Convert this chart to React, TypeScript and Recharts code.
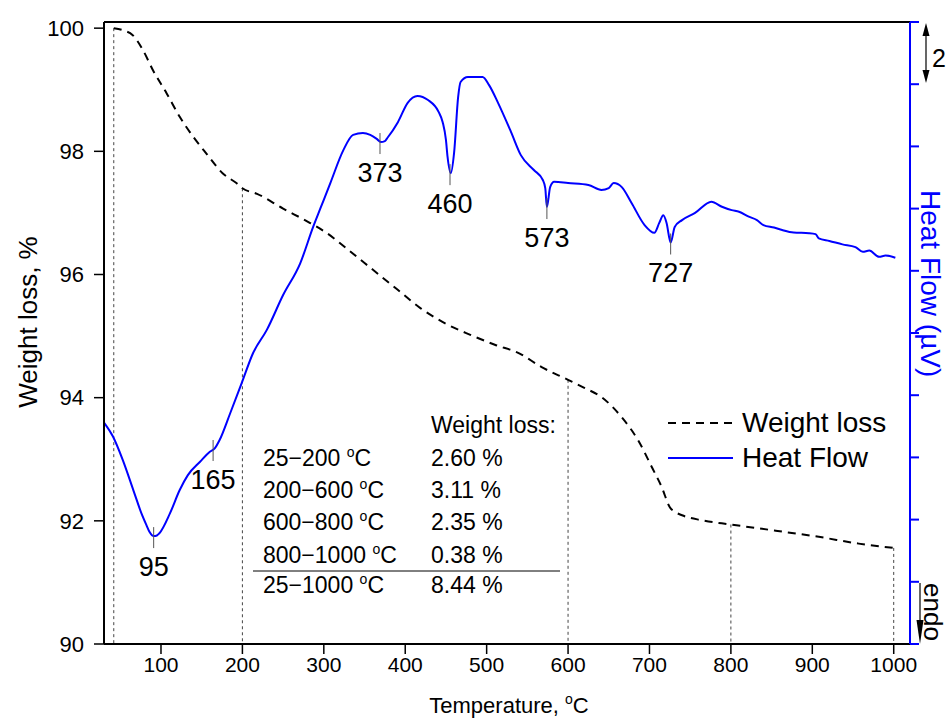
import React from "react";
import { LineChart, Line, XAxis, YAxis, ReferenceLine, ReferenceDot, Legend } from "recharts";

const FONT = "'Liberation Sans', Arial, sans-serif";

// TG curve (weight, %) vs temperature (°C)
const weightTemp = [42, 55, 65, 78, 90, 107, 123, 140, 156, 176, 193, 200, 218, 250, 280, 304, 330, 360, 390, 419, 450, 480, 510, 540, 567, 600, 620, 641, 666, 686, 703, 715, 725, 732, 740, 764, 800, 855, 908, 957, 1000];
const weightValue = [100.0, 99.96, 99.89, 99.64, 99.32, 98.94, 98.56, 98.23, 97.96, 97.64, 97.48, 97.4, 97.31, 97.07, 96.86, 96.67, 96.4, 96.08, 95.76, 95.45, 95.2, 95.02, 94.86, 94.72, 94.5, 94.29, 94.16, 94.01, 93.68, 93.31, 92.87, 92.55, 92.22, 92.14, 92.09, 92.01, 91.94, 91.84, 91.74, 91.63, 91.56];

// DTA curve (heat flow, µV) vs temperature (°C)
const heatTemp = [30, 41, 53, 66, 76, 82, 86, 91, 95, 98, 111, 123, 133, 148, 160, 166, 172, 185, 199, 213, 230, 250, 271, 287, 296, 308, 324, 336, 348, 357, 365, 370, 375, 378, 391, 403, 415, 428, 441, 446, 450, 452, 456, 460, 465, 468, 477, 495, 503, 514, 530, 542, 558, 569, 572, 574, 578, 583, 600, 625, 641, 650, 656, 666, 678, 694, 706, 712, 717, 721, 726, 731, 740, 756, 776, 789, 801, 810, 822, 832, 840, 853, 863, 877, 896, 904, 908, 921, 937, 953, 962, 970, 982, 990, 1002];
const heatValue = [7.12, 6.67, 5.92, 4.95, 4.2, 3.83, 3.6, 3.47, 3.49, 3.56, 4.2, 4.95, 5.43, 5.86, 6.18, 6.29, 6.56, 7.42, 8.38, 9.35, 10.1, 11.22, 12.24, 13.42, 14.02, 14.82, 15.88, 16.37, 16.43, 16.37, 16.24, 16.14, 16.17, 16.27, 16.78, 17.4, 17.62, 17.49, 17.11, 16.78, 16.21, 15.66, 15.14, 15.79, 17.59, 18.07, 18.23, 18.23, 17.97, 17.4, 16.46, 15.72, 15.24, 14.92, 14.66, 14.05, 14.69, 14.86, 14.82, 14.76, 14.6, 14.66, 14.82, 14.69, 14.18, 13.47, 13.22, 13.54, 13.79, 13.54, 12.91, 13.41, 13.63, 13.86, 14.22, 14.06, 13.95, 13.9, 13.74, 13.63, 13.47, 13.39, 13.31, 13.23, 13.21, 13.18, 13.04, 12.96, 12.85, 12.76, 12.61, 12.65, 12.45, 12.49, 12.42];

// peak annotations on heat flow
const peakTemp = [91, 164, 369, 455, 574, 726];
const peakHeat = [3.47, 6.27, 16.14, 15.14, 14.05, 12.91];
const peakLabel = ["95", "165", "373", "460", "573", "727"];

// dotted drop lines from weight curve
const stepTemp = [42, 200, 600, 800, 1000];
const stepWeight = [100.0, 97.4, 94.29, 91.94, 91.56];

// weight loss table
const rangeLabels = ["25\u2212200", "200\u2212600", "600\u2212800", "800\u22121000"];
const rangeLoss = ["2.60", "3.11", "2.35", "0.38"];
const totalRange = "25\u22121000";
const totalLoss = "8.44";

const xTicks = [100, 200, 300, 400, 500, 600, 700, 800, 900, 1000];
const leftTicks = [90, 92, 94, 96, 98, 100];
const rightTicks = [0, 2, 4, 6, 8, 10, 12, 14, 16, 18, 20];

const weightData = weightTemp.map((t, i) => ({ t, w: weightValue[i] }));
const heatData = heatTemp.map((t, i) => ({ t, h: heatValue[i] }));

const legendOrder = ["Weight loss", "Heat Flow"];
const dashOf: Record<string, string | undefined> = { "Weight loss": "8 6", "Heat Flow": undefined };

const LegendBox = ({ payload }: any) => {
  const items = [...(payload || [])].sort(
    (a: any, b: any) => legendOrder.indexOf(a.value) - legendOrder.indexOf(b.value)
  );
  return (
    <div style={{ fontFamily: FONT, fontSize: 28, color: "#000" }}>
      {items.map((e: any) => (
        <div key={e.value} style={{ display: "flex", alignItems: "center", height: 35 }}>
          <svg width={74} height={10}>
            <line x1={0} x2={65} y1={5} y2={5} stroke={e.color} strokeWidth={2} strokeDasharray={dashOf[e.value]} />
          </svg>
          <span>{e.value}</span>
        </div>
      ))}
    </div>
  );
};

const peakShape = (label: string) => (p: any) => (
  <g>
    <line x1={p.cx} x2={p.cx} y1={p.cy - 9} y2={p.cy + 12} stroke="#555" strokeWidth={1} />
    <text x={p.cx} y={p.cy + 40} textAnchor="middle" fontFamily={FONT} fontSize={27} fill="#000">
      {label}
    </text>
  </g>
);

const Deg = () => (
  <>
    <tspan dy={-9} fontSize={14}>o</tspan>
    <tspan dy={9}>C</tspan>
  </>
);

const NoLabel = () => <g />;

export default function App() {
  const rowY = [466, 498, 530, 563];
  return (
    <div style={{ position: "absolute", left: 0, top: 0, width: 947, height: 720, background: "#fff" }}>
      <LineChart width={947} height={720} margin={{ top: 22, right: 0, left: 44, bottom: 0 }}>
        <XAxis
          type="number"
          dataKey="t"
          domain={[30, 1020]}
          allowDataOverflow
          ticks={xTicks}
          tickSize={10}
          tickMargin={3}
          height={76}
          axisLine={{ stroke: "#000", strokeWidth: 2 }}
          tickLine={{ stroke: "#000", strokeWidth: 1.5 }}
          tick={{ fill: "#000", fontSize: 21, fontFamily: FONT }}
        />
        <YAxis
          yAxisId="left"
          type="number"
          domain={[90, 100.1]}
          allowDataOverflow
          ticks={leftTicks}
          width={60}
          tickSize={10}
          tickMargin={10}
          axisLine={{ stroke: "#000", strokeWidth: 2 }}
          tickLine={{ stroke: "#000", strokeWidth: 1.5 }}
          tick={{ fill: "#000", fontSize: 22, fontFamily: FONT }}
        />
        <YAxis
          yAxisId="right"
          orientation="right"
          type="number"
          domain={[0, 20]}
          allowDataOverflow
          ticks={rightTicks}
          width={37}
          tickSize={9}
          tick={NoLabel}
          axisLine={{ stroke: "#0000ff", strokeWidth: 2 }}
          tickLine={{ stroke: "#0000ff", strokeWidth: 2 }}
        />
        <ReferenceLine yAxisId="left" y={100.1} stroke="#000" strokeWidth={2} />
        {stepTemp.map((t, i) => (
          <ReferenceLine
            key={"s" + t}
            yAxisId="left"
            segment={[{ x: t, y: stepWeight[i] }, { x: t, y: 90 }]}
            stroke="#444"
            strokeWidth={1}
            strokeDasharray="3 3"
          />
        ))}
        <Line
          yAxisId="left"
          data={weightData}
          dataKey="w"
          name="Weight loss"
          type="monotone"
          stroke="#000"
          strokeWidth={2}
          strokeDasharray="8 6"
          dot={false}
          activeDot={false}
          isAnimationActive={false}
        />
        <Line
          yAxisId="right"
          data={heatData}
          dataKey="h"
          name="Heat Flow"
          type="monotone"
          stroke="#0000ff"
          strokeWidth={2}
          dot={false}
          activeDot={false}
          isAnimationActive={false}
        />
        {peakTemp.map((t, i) => (
          <ReferenceDot
            key={"p" + t}
            yAxisId="right"
            x={t}
            y={peakHeat[i]}
            r={0}
            shape={peakShape(peakLabel[i])}
          />
        ))}
        <Legend
          layout="vertical"
          align="center"
          verticalAlign="middle"
          content={<LegendBox />}
          wrapperStyle={{ position: "absolute", left: 668, top: 405, width: "auto" }}
        />
      </LineChart>
      <svg
        width={947}
        height={720}
        style={{ position: "absolute", left: 0, top: 0, pointerEvents: "none" }}
        fontFamily={FONT}
      >
        <text x={37} y={322} transform="rotate(-90, 37, 322)" textAnchor="middle" fontSize={26} fill="#000">
          Weight loss, %
        </text>
        <text x={509} y={713} textAnchor="middle" fontSize={22} fill="#000">
          Temperature, <Deg />
        </text>
        <text x={921} y={190} transform="rotate(90, 921, 190)" fontSize={28} fill="#0000ff">
          Heat Flow (µV)
        </text>
        <text x={924} y={583} transform="rotate(90, 924, 583)" fontSize={26} fill="#000">
          endo
        </text>
        <text x={932} y={67} fontSize={25} fill="#000">2</text>
        <line x1={926} x2={926} y1={30} y2={76} stroke="#000" strokeWidth={1.2} />
        <polygon points="926,23 922.5,36 929.5,36" fill="#000" />
        <polygon points="926,83 922.5,70 929.5,70" fill="#000" />
        <line x1={920} x2={920} y1={583} y2={625} stroke="#000" strokeWidth={1.2} />
        <polygon points="920,644 916.5,620 923.5,620" fill="#000" />

        <g fontSize={23} fill="#000">
          <text x={431} y={433}>Weight loss:</text>
          {rangeLabels.map((r, i) => (
            <React.Fragment key={r}>
              <text x={263} y={rowY[i]}>
                {r} <Deg />
              </text>
              <text x={431} y={rowY[i]}>{rangeLoss[i]} %</text>
            </React.Fragment>
          ))}
          <line x1={253} x2={560} y1={571} y2={571} stroke="#000" strokeWidth={1} />
          <text x={263} y={593}>
            {totalRange} <Deg />
          </text>
          <text x={431} y={593}>{totalLoss} %</text>
        </g>
      </svg>
    </div>
  );
}
